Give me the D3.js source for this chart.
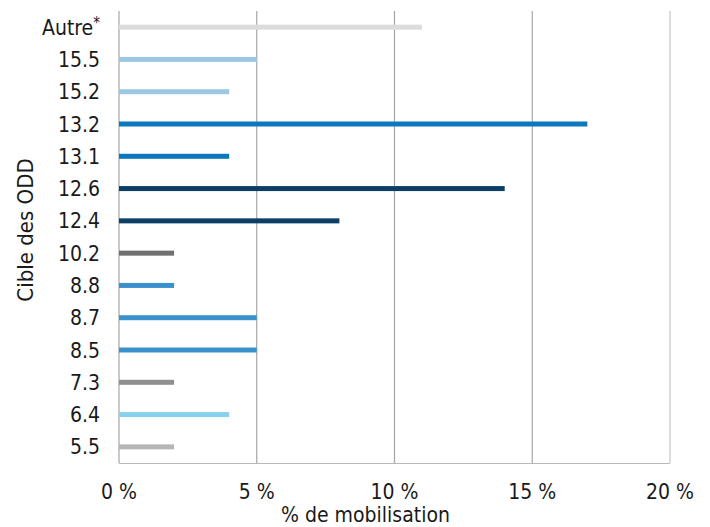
<!DOCTYPE html>
<html>
<head>
<meta charset="utf-8">
<script src="https://cdn.jsdelivr.net/npm/d3@7"></script>
<style>
  body { margin: 0; background: #fff; }
  text { font-family: "DejaVu Sans Condensed", "DejaVu Sans", sans-serif; font-stretch: condensed; fill: #1a1a1a; }
</style>
</head>
<body>
<div class="chart"></div>
<script>
var categories = ["Autre", "15.5", "15.2", "13.2", "13.1", "12.6", "12.4", "10.2", "8.8", "8.7", "8.5", "7.3", "6.4", "5.5"];
var values = [11, 5, 4, 17, 4, 14, 8, 2, 2, 5, 5, 2, 4, 2];
var colors = ["#dcdcdc", "#9dc8e4", "#9dc8e4", "#0b77bd", "#0b77bd", "#0b3f66", "#0b3f66", "#707070", "#3b91cc", "#3b91cc", "#3b91cc", "#8f8f8f", "#87d1ee", "#b6b6b6"];
var xTicks = [0, 5, 10, 15, 20];

var width = 710, height = 527;
var margin = {top: 11, right: 40, bottom: 64, left: 119};

var svg = d3.select(".chart").append("svg")
    .attr("width", width)
    .attr("height", height);

var x = d3.scaleLinear()
    .domain([0, 20])
    .range([margin.left, width - margin.right]);

var y = d3.scaleBand()
    .domain(categories)
    .range([margin.top, height - margin.bottom]);

// grid lines
svg.append("g")
  .selectAll("line")
  .data(xTicks)
  .enter().append("line")
    .attr("x1", function(d) { return x(d); })
    .attr("x2", function(d) { return x(d); })
    .attr("y1", margin.top)
    .attr("y2", height - margin.bottom)
    .attr("stroke", function(d) { return d == 20 ? "#c4c6c6" : "#a4a6a6"; })
    .attr("stroke-width", 1.2);

// baseline
svg.append("line")
    .attr("x1", x(0))
    .attr("x2", x(20))
    .attr("y1", height - margin.bottom + 0.5)
    .attr("y2", height - margin.bottom + 0.5)
    .attr("stroke", "#b8baba")
    .attr("stroke-width", 1.2);

// bars
var barH = 5;
svg.append("g")
  .selectAll("rect")
  .data(categories)
  .enter().append("rect")
    .attr("x", x(0))
    .attr("y", function(d) { return y(d) + y.bandwidth() / 2 - barH / 2; })
    .attr("width", function(d, i) { return x(values[i]) - x(0); })
    .attr("height", barH)
    .attr("fill", function(d, i) { return colors[i]; });

// y tick labels
var yLab = svg.append("g")
  .selectAll("text")
  .data(categories)
  .enter().append("text")
    .attr("x", 100)
    .attr("y", function(d) { return y(d) + y.bandwidth() / 2 + 7.5; })
    .attr("text-anchor", "end")
    .style("font-size", "21px");

yLab.each(function(d) {
  var t = d3.select(this);
  if (d == "Autre") {
    t.append("tspan").text("Autre");
    t.append("tspan").text("*").attr("dy", -7).style("font-size", "15px");
  } else {
    t.text(d);
  }
});

// x tick labels
svg.append("g")
  .selectAll("text")
  .data(xTicks)
  .enter().append("text")
    .attr("x", function(d) { return x(d); })
    .attr("y", 499)
    .attr("text-anchor", "middle")
    .style("font-size", "21px")
    .text(function(d) { return d + " %"; });

// axis titles
svg.append("text")
    .attr("x", x(10) - 29)
    .attr("y", 522)
    .attr("text-anchor", "middle")
    .style("font-size", "21px")
    .text("% de mobilisation");

svg.append("text")
    .attr("transform", "translate(33,230) rotate(-90)")
    .attr("text-anchor", "middle")
    .style("font-size", "22px")
    .text("Cible des ODD");
</script>
</body>
</html>
